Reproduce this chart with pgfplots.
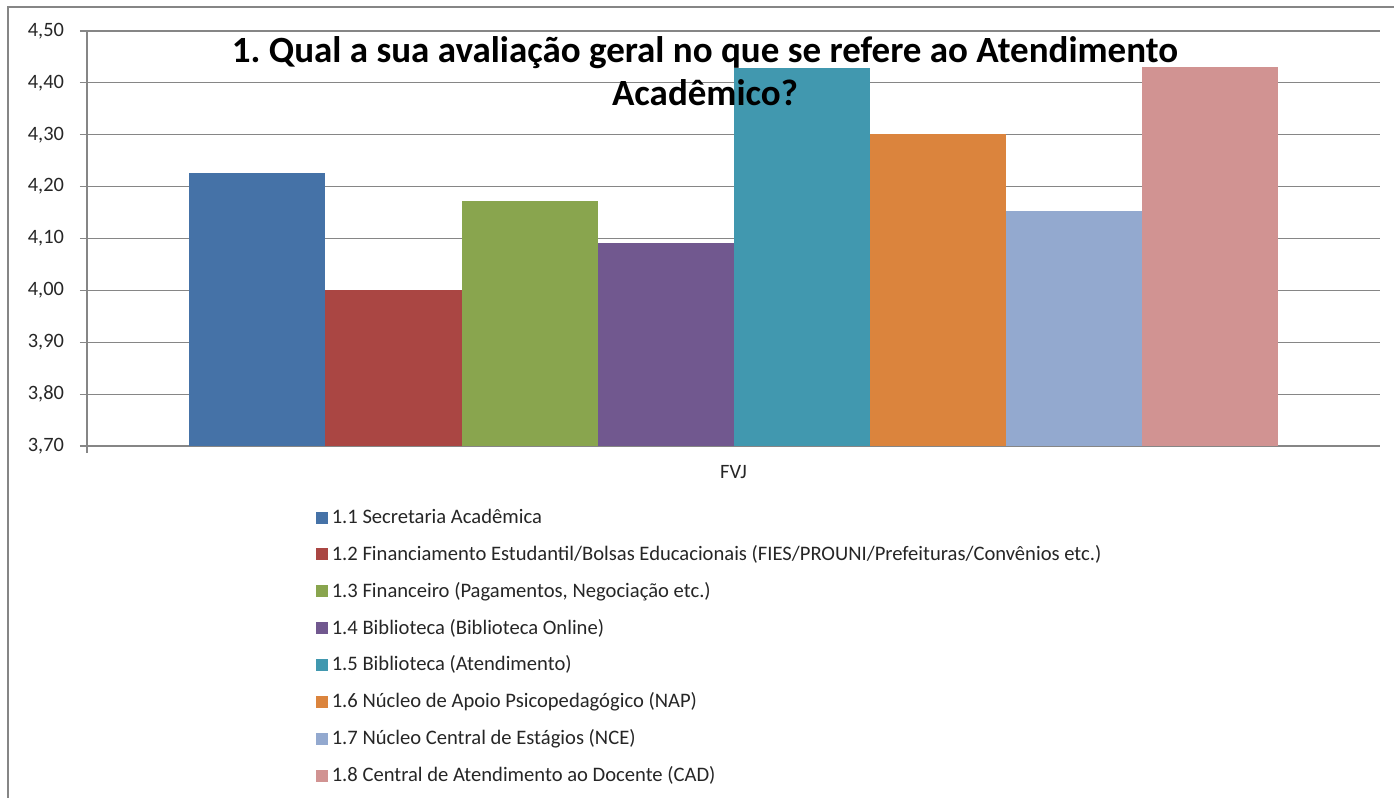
\documentclass[border=0pt]{standalone}
\usepackage{fontspec}
\setmainfont{Carlito}
\usepackage{pgfplots}
\pgfplotsset{compat=1.18}
\frenchspacing
\definecolor{c1}{HTML}{4572A7}
\definecolor{c2}{HTML}{AA4643}
\definecolor{c3}{HTML}{89A54E}
\definecolor{c4}{HTML}{71588F}
\definecolor{c5}{HTML}{4198AF}
\definecolor{c6}{HTML}{DB843D}
\definecolor{c7}{HTML}{93A9CF}
\definecolor{c8}{HTML}{D19392}
\definecolor{gridgray}{HTML}{868686}
\pgfplotsset{sq/.style={legend image code/.code={\fill[##1,draw=none] (0pt,-3pt) rectangle (6pt,3pt);}}}
\begin{document}
\begin{tikzpicture}
\useasboundingbox (0,0) rectangle (697pt,399pt);
\draw[gridgray,line width=0.8pt] (4pt,0pt) -- (4pt,395.5pt) -- (697pt,395.5pt);
\begin{axis}[
  at={(43.5pt,176pt)}, anchor=south west,
  scale only axis, width=646.5pt, height=207.5pt,
  ybar=0pt, bar width=68pt,
  xmin=-1, xmax=1, ymin=3.7, ymax=4.5,
  axis x line*=bottom, axis y line*=left,
  axis line style={gridgray, line width=0.6pt},
  xtick={-1}, xticklabels={},
  extra x ticks={0}, extra x tick labels={FVJ},
  extra x tick style={major tick length=0pt, xticklabel style={yshift=-6pt}},
  ytick={3.7,3.8,...,4.55},
  tick align=outside, major tick length=3.5pt,
  tick style={gridgray, line width=0.6pt},
  ymajorgrids, grid style={gridgray, line width=0.6pt},
  /pgf/number format/fixed, /pgf/number format/fixed zerofill,
  /pgf/number format/precision=2, /pgf/number format/use comma,
  /pgf/number format/assume math mode=true,
  yticklabel style={font=\fontsize{10.2}{12}\selectfont, text=black!85, xshift=-4.5pt},
  xticklabel style={font=\fontsize{10.2}{12}\selectfont, text=black!85},
  legend style={at={(axis description cs:0.172,-0.132)}, anchor=north west, draw=none, fill=none,
    font=\fontsize{10.3}{12}\selectfont, text=black!85, row sep=5.4pt, cells={anchor=west}},
  legend cell align=left,
]
\addplot[fill=c1, draw=none, sq] coordinates {(0,4.226)};
\addplot[fill=c2, draw=none, sq] coordinates {(0,4.000)};
\addplot[fill=c3, draw=none, sq] coordinates {(0,4.172)};
\addplot[fill=c4, draw=none, sq] coordinates {(0,4.091)};
\addplot[fill=c5, draw=none, sq] coordinates {(0,4.429)};
\addplot[fill=c6, draw=none, sq] coordinates {(0,4.301)};
\addplot[fill=c7, draw=none, sq] coordinates {(0,4.153)};
\addplot[fill=c8, draw=none, sq] coordinates {(0,4.431)};
\legend{1.1 Secretaria Acadêmica,
1.2 Financiamento Estudantil/Bolsas Educacionais (FIES/PROUNI/Prefeituras/Convênios etc.),
1.3 Financeiro (Pagamentos{,} Negociação etc.),
1.4 Biblioteca (Biblioteca Online),
1.5 Biblioteca (Atendimento),
1.6 Núcleo de Apoio Psicopedagógico (NAP),
1.7 Núcleo Central de Estágios (NCE),
1.8 Central de Atendimento ao Docente (CAD)}
\end{axis}
\node[align=center, font=\fontsize{18.5}{21.5}\selectfont\bfseries] at (352.5pt,363.25pt)
  {1. Qual a sua avaliação geral no que se refere ao Atendimento\\Acadêmico?};
\end{tikzpicture}
\end{document}
